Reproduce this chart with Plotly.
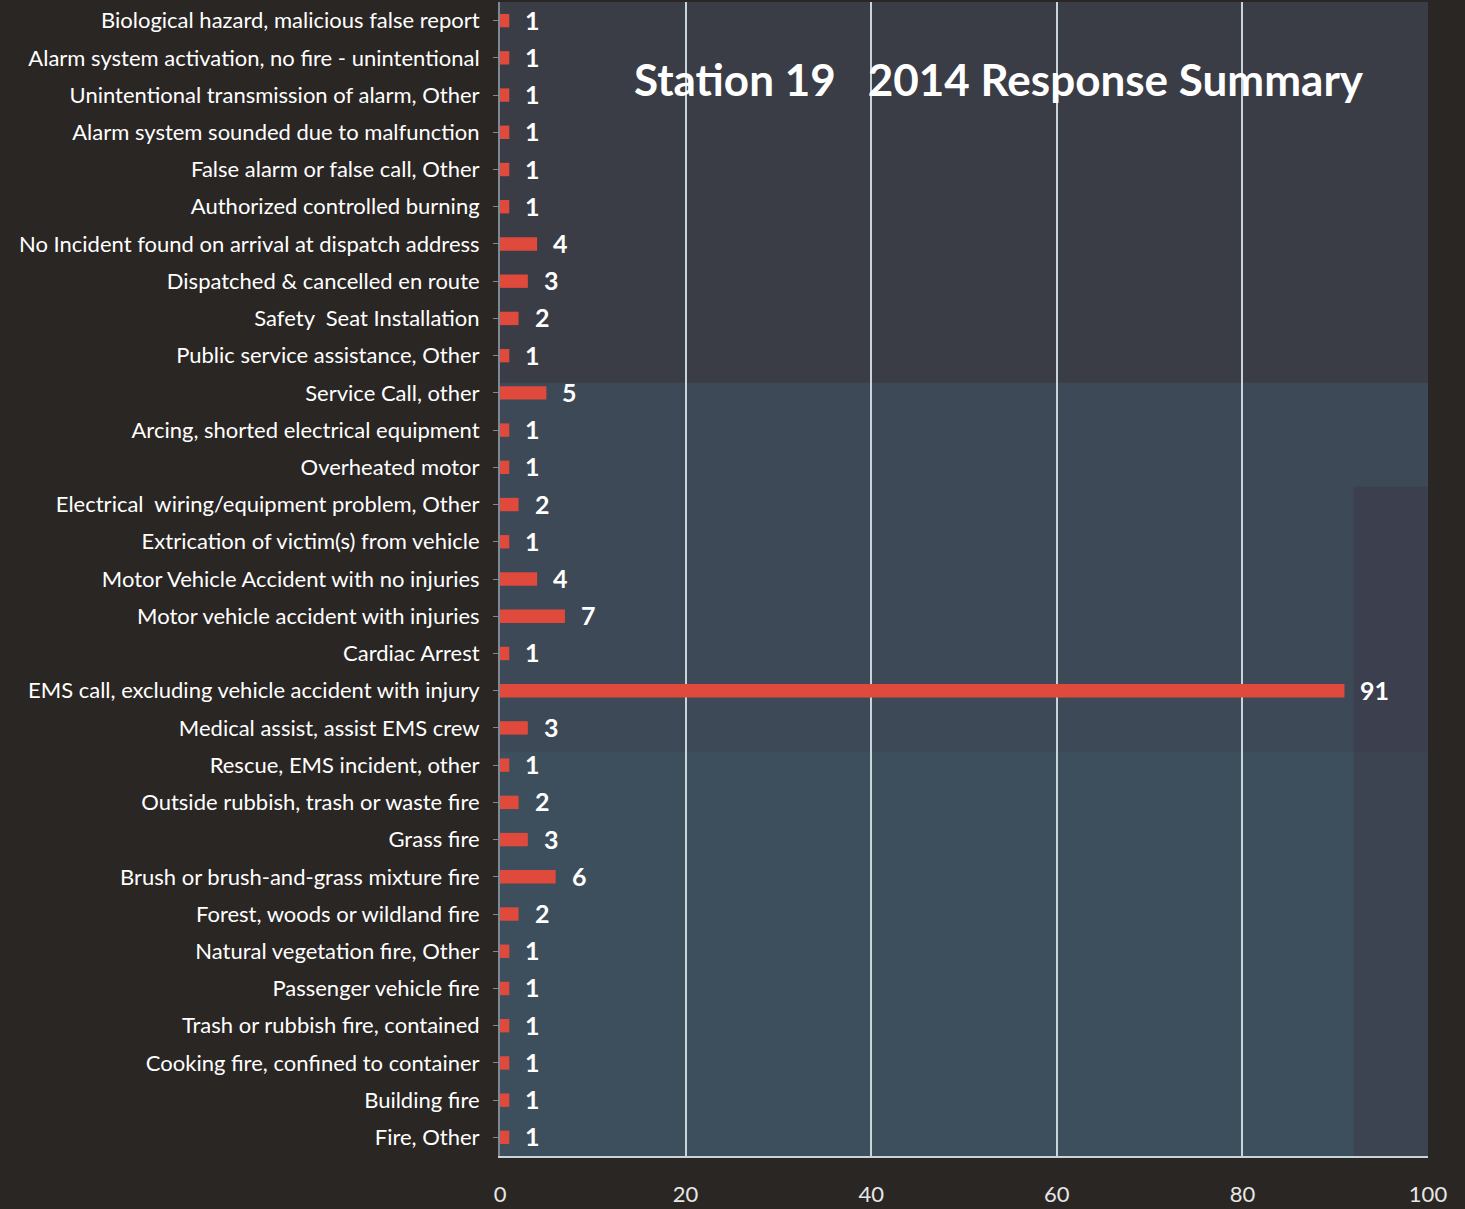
import plotly.graph_objects as go

categories = [
    "Biological hazard, malicious false report",
    "Alarm system activation, no fire - unintentional",
    "Unintentional transmission of alarm, Other",
    "Alarm system sounded due to malfunction",
    "False alarm or false call, Other",
    "Authorized controlled burning",
    "No Incident found on arrival at dispatch address",
    "Dispatched & cancelled en route",
    "Safety  Seat Installation",
    "Public service assistance, Other",
    "Service Call, other",
    "Arcing, shorted electrical equipment",
    "Overheated motor",
    "Electrical  wiring/equipment problem, Other",
    "Extrication of victim(s) from vehicle",
    "Motor Vehicle Accident with no injuries",
    "Motor vehicle accident with injuries",
    "Cardiac Arrest",
    "EMS call, excluding vehicle accident with injury",
    "Medical assist, assist EMS crew",
    "Rescue, EMS incident, other",
    "Outside rubbish, trash or waste fire",
    "Grass fire",
    "Brush or brush-and-grass mixture fire",
    "Forest, woods or wildland fire",
    "Natural vegetation fire, Other",
    "Passenger vehicle fire",
    "Trash or rubbish fire, contained",
    "Cooking fire, confined to container",
    "Building fire",
    "Fire, Other",
]
counts = [1, 1, 1, 1, 1, 1, 4, 3, 2, 1, 5, 1, 1, 2, 1, 4, 7, 1, 91, 3, 1, 2, 3, 6, 2, 1, 1, 1, 1, 1, 1]
x_ticks = [0, 20, 40, 60, 80, 100]
title_text = "Station 19   2014 Response Summary"

FONT = "Lato"

fig = go.Figure()
fig.add_trace(go.Bar(
    y=categories, x=counts, orientation="h",
    marker=dict(color="#e04a3c", line=dict(width=0)),
    width=0.36,
    hoverinfo="x+y",
))

annotations = []
for c, v in zip(categories, counts):
    annotations.append(dict(
        x=v, y=c, xref="x", yref="y", text=f"<b>{v}</b>", showarrow=False,
        xanchor="left", yanchor="middle", xshift=14, yshift=1,
        font=dict(family=FONT, size=25, color="#ffffff"),
    ))
annotations.append(dict(
    x=0.538, y=0.933, xref="paper", yref="paper", text=f"<b>{title_text}</b>",
    showarrow=False, xanchor="center", yanchor="middle",
    font=dict(family=FONT, size=44, color="#ffffff"),
))

# subtle bluish tint in the lower part of the plot area (scanned look)
shapes = [
    dict(type="rect", xref="paper", yref="paper", x0=0, x1=1, y0=0, y1=0.67,
         fillcolor="rgba(70,105,125,0.30)", line=dict(width=0), layer="below"),
    dict(type="rect", xref="paper", yref="paper", x0=0, x1=1, y0=0, y1=0.35,
         fillcolor="rgba(70,115,125,0.15)", line=dict(width=0), layer="below"),
    dict(type="rect", xref="paper", yref="paper", x0=0.92, x1=1, y0=0, y1=0.58,
         fillcolor="rgba(60,55,70,0.5)", line=dict(width=0), layer="below"),
]

fig.update_layout(
    width=1465, height=1209,
    paper_bgcolor="#2a2624",
    plot_bgcolor="#3a3c46",
    margin=dict(l=500, r=37, t=2, b=47),
    showlegend=False,
    annotations=annotations,
    shapes=shapes,
    font=dict(family=FONT, color="#ffffff"),
    xaxis=dict(
        range=[0, 100], tickvals=x_ticks, showgrid=True,
        gridcolor="#c9d3da", gridwidth=1.5, zeroline=False,
        showline=True, linecolor="#c9d3da", linewidth=2,
        tickfont=dict(family=FONT, size=22, color="#e6e6e6"),
        ticks="", ticklabelstandoff=18,
    ),
    yaxis=dict(
        categoryorder="array", categoryarray=categories, autorange="reversed",
        showgrid=False, zeroline=False,
        showline=True, linecolor="#7d8a96", linewidth=2,
        ticks="outside", ticklen=5, tickcolor="#7d8a96",
        tickfont=dict(family=FONT, size=22, color="#ffffff"),
        ticklabelstandoff=9,
    ),
)

fig.write_html(
    "out.html",
    config={"displayModeBar": False},
    post_script="document.body.style.margin='0px';document.body.style.background='#2a2624';",
)
